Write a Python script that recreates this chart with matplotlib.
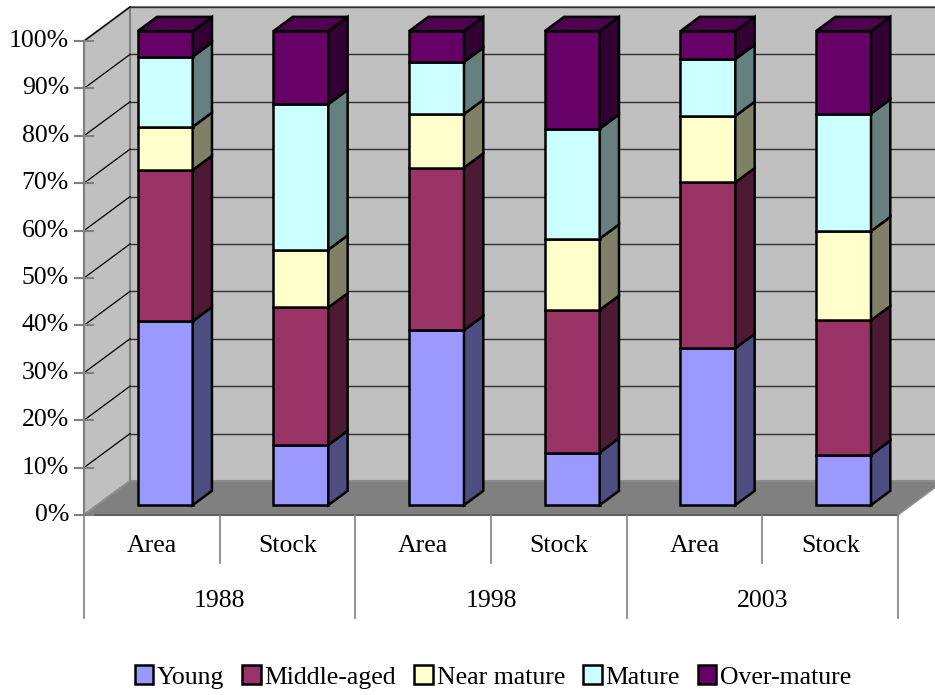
"""Age-class structure of forest area and growing stock, 1988/1998/2003,
drawn as Excel-style 3-D stacked 100% columns."""
import matplotlib
matplotlib.use("Agg")
import matplotlib.pyplot as plt
from matplotlib.patches import Polygon, Patch
import numpy as np

plt.rcParams.update({
    "font.family": ["Liberation Serif", "DejaVu Serif"],
    "font.size": 18.5,
})

years = ["1988", "1998", "2003"]
measures = ["Area", "Stock"]
classes = ["Young", "Middle-aged", "Near mature", "Mature", "Over-mature"]

# percent share of each age class, one entry per column (Area, Stock per year)
young = [38.8, 12.7, 36.9, 11.1, 33.1, 10.6]
middle_aged = [31.9, 29.0, 34.3, 30.1, 35.0, 28.4]
near_mature = [9.1, 12.2, 11.3, 15.0, 14.0, 18.8]
mature = [14.8, 30.7, 11.0, 23.2, 12.0, 24.8]
over_mature = [5.4, 15.4, 6.5, 20.6, 5.9, 17.4]

face_colors = ["#9999FF", "#993366", "#FFFFCC", "#CCFFFF", "#660066"]
yticks = np.arange(0, 101, 10)

# oblique projection: depth 1 moves a point by (DX, DY) in data units
PX_X = 135.67          # pixels per column slot
PX_Y = 4.74            # pixels per percent
DX = 46 / PX_X
DY = 34 / PX_Y
BAR_W = 0.405
D0, D1 = 0.29, 0.71    # front/back depth of the columns
FS = 18.5


def shade(c, f):
    rgb = np.array(matplotlib.colors.to_rgb(c))
    return tuple(rgb * f)


def poly(ax, pts, fc, ec="black", lw=1.8, z=2):
    ax.add_patch(Polygon(pts, closed=True, facecolor=fc, edgecolor=ec,
                         linewidth=lw, joinstyle="miter", zorder=z))


fig = plt.figure(figsize=(9.35, 6.95), dpi=100)
ax = fig.add_axes([0, 0, 1, 1])
ax.set_xlim(-84 / PX_X, (935 - 84) / PX_X)
ax.set_ylim(-(695 - 515) / PX_Y, 515 / PX_Y)
ax.axis("off")

n = len(young)
wall = "#C0C0C0"
edge = "#808080"

# walls and floor
poly(ax, [(DX, DY), (n + DX, DY), (n + DX, 100 + DY), (DX, 100 + DY)],
     wall, ec=edge, lw=1.5, z=0)
poly(ax, [(0, 0), (DX, DY), (DX, 100 + DY), (0, 100)],
     wall, ec=edge, lw=1.5, z=0)
poly(ax, [(0, 0), (n, 0), (n + DX, DY), (DX, DY)],
     "#808080", ec="#909090", lw=1.0, z=0.5)

# gridlines on back and side walls
for v in yticks[1:]:
    ax.plot([DX, n + DX], [v + DY, v + DY], color="#303030", lw=1.0, zorder=1)
    ax.plot([0, DX], [v, v + DY], color="black", lw=0.9, zorder=1)

# value axis
ax.plot([0, 0], [0, 100], color=edge, lw=1.5, zorder=1)
ax.plot([0, n], [0, 0], color="#606060", lw=1.5, zorder=1)
for v in yticks:
    ax.plot([-9 / PX_X, 9 / PX_X], [v, v], color=edge, lw=1.5, zorder=1)
    ax.text(-15 / PX_X, v, f"{v}%", ha="right", va="center", fontsize=FS)

# stacked columns
stack = np.array([young, middle_aged, near_mature, mature, over_mature])
for i in range(n):
    base = 0.0
    x0 = i + 0.5 - BAR_W / 2
    x1 = x0 + BAR_W
    for k in range(len(classes)):
        h = stack[k, i]
        lo, hi = base, base + h
        fx, fy = D0 * DX, D0 * DY
        bx, by = D1 * DX, D1 * DY
        c = face_colors[k]
        # front face
        poly(ax, [(x0 + fx, lo + fy), (x1 + fx, lo + fy),
                  (x1 + fx, hi + fy), (x0 + fx, hi + fy)], c)
        # right side face
        poly(ax, [(x1 + fx, lo + fy), (x1 + bx, lo + by),
                  (x1 + bx, hi + by), (x1 + fx, hi + fy)], shade(c, 0.5))
        if k == len(classes) - 1:
            poly(ax, [(x0 + fx, hi + fy), (x1 + fx, hi + fy),
                      (x1 + bx, hi + by), (x0 + bx, hi + by)],
                 shade(c, 0.75))
        base = hi

# two-level category axis
short = 48 / PX_Y
long_ = 103 / PX_Y
for j in range(n + 1):
    depth = long_ if j % 2 == 0 else short
    ax.plot([j, j], [0, -depth], color=edge, lw=1.2, zorder=1)
for i in range(n):
    ax.text(i + 0.5, -31 / PX_Y, measures[i % 2], ha="center", va="center",
            fontsize=FS)
for g, yr in enumerate(years):
    ax.text(2 * g + 1, -86 / PX_Y, yr, ha="center", va="center", fontsize=FS)

handles = [Patch(facecolor=c, edgecolor="black", linewidth=1.8)
           for c in face_colors]
fig.legend(handles, classes, loc="center", bbox_to_anchor=(493 / 935, 1 - 677 / 695),
           ncol=5, frameon=False, fontsize=FS, handlelength=0.72,
           handleheight=0.72, handletextpad=0.15, columnspacing=0.7,
           borderaxespad=0)

fig.savefig("out.png", dpi=100)
